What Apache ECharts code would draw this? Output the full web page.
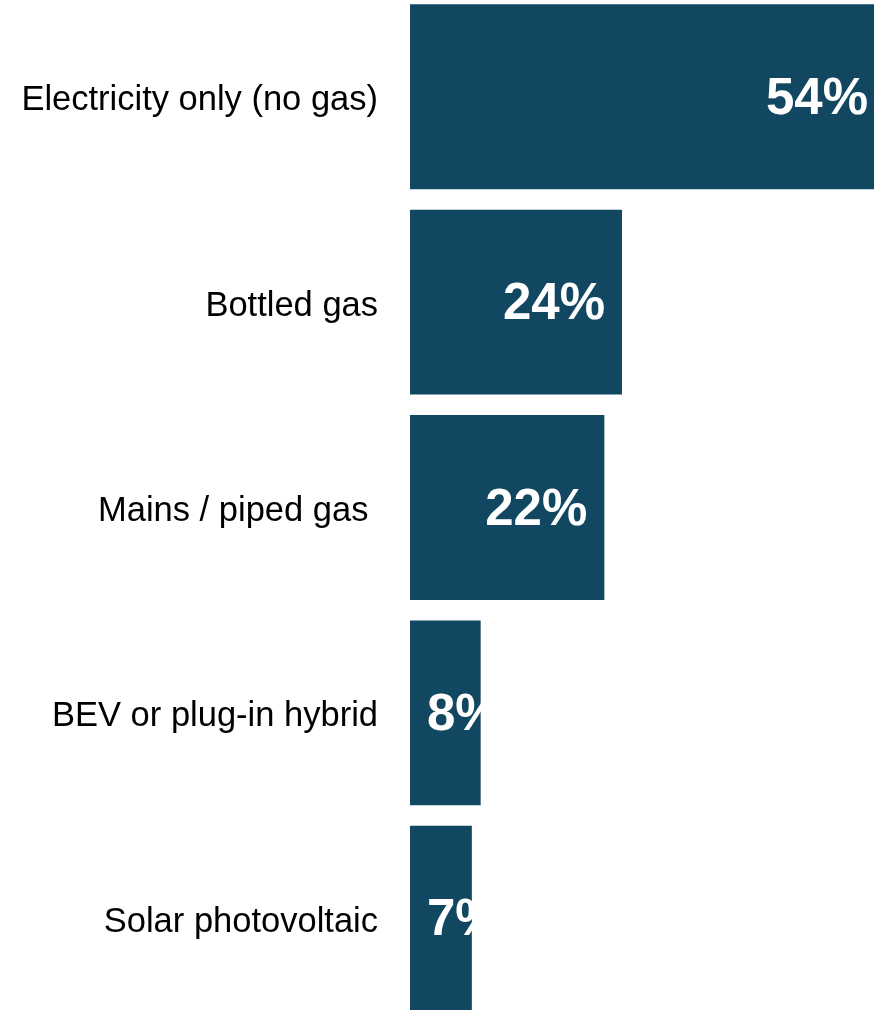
<!DOCTYPE html>
<html>
<head>
<meta charset="utf-8">
<script src="https://cdn.jsdelivr.net/npm/echarts@6/dist/echarts.min.js"></script>
<style>
html,body{margin:0;padding:0;background:#fff;overflow:hidden;width:874px;height:1010px;}
#chart{position:absolute;left:0;top:-6px;width:887px;height:1027px;}
</style>
</head>
<body>
<div id="chart"></div>
<script>
const categories = ["Electricity only (no gas)", "Bottled gas", "Mains / piped gas ", "BEV or plug-in hybrid", "Solar photovoltaic"];
const values = [54, 24, 22, 8, 7];
const labelPositions = ["insideRight", "insideRight", "insideRight", "insideLeft", "insideLeft"];

const chart = echarts.init(document.getElementById('chart'), null, {renderer: 'canvas'});
chart.setOption({
  animation: false,
  grid: {left: 410, right: 0, top: 0, bottom: 0, containLabel: false},
  xAxis: {
    type: 'value', min: 0, max: 54, show: false
  },
  yAxis: {
    type: 'category', inverse: true, data: categories,
    axisLine: {show: false}, axisTick: {show: false},
    axisLabel: {
      margin: 32,
      formatter: v => '{a|' + v + '}',
      rich: {
        a: {
          fontSize: 34.5, color: '#000',
          padding: [8, 0, 0, 0],
          fontFamily: 'Liberation Sans, Arial, sans-serif'
        }
      }
    }
  },
  series: [{
    type: 'bar',
    barWidth: '90%',
    itemStyle: {color: '#114761'},
    data: values.map((v, i) => ({
      value: v,
      label: {position: labelPositions[i], distance: i === 0 ? 19 : 17}
    })),
    label: {
      show: true,
      formatter: '{c}%',
      color: '#fff',
      fontSize: 51,
      fontWeight: 'bold',
      offset: [0, 3],
      fontFamily: 'Liberation Sans, Arial, sans-serif'
    }
  }]
});
</script>
</body>
</html>
